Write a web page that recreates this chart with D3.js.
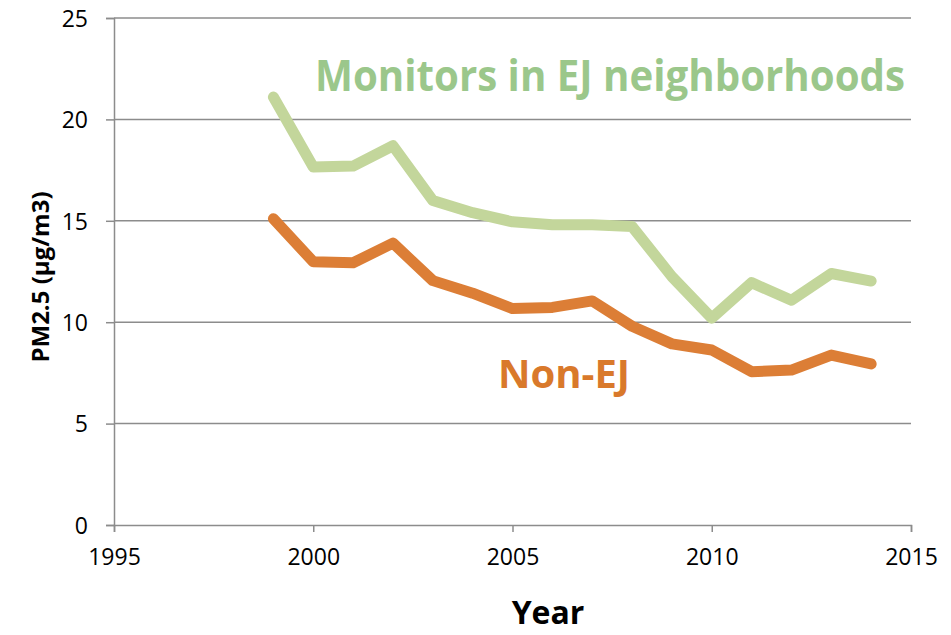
<!DOCTYPE html>
<html>
<head>
<meta charset="utf-8">
<script src="https://cdn.jsdelivr.net/npm/d3@7"></script>
<style>
  body { margin: 0; background: #fff; }
  svg text { font-family: "Open Sans", "Liberation Sans", sans-serif; }
</style>
</head>
<body>
<svg id="chart" width="951" height="635"></svg>
<script>
var years = [1999, 2000, 2001, 2002, 2003, 2004, 2005, 2006, 2007, 2008, 2009, 2010, 2011, 2012, 2013, 2014];
var ej = [21.1, 17.65, 17.7, 18.7, 16.0, 15.4, 14.95, 14.8, 14.8, 14.72, 12.25, 10.2, 11.95, 11.08, 12.4, 12.03];
var nonEj = [15.1, 12.98, 12.93, 13.9, 12.05, 11.43, 10.67, 10.73, 11.05, 9.8, 8.93, 8.63, 7.56, 7.64, 8.38, 7.94];
var xTicks = [1995, 2000, 2005, 2010, 2015];
var yTicks = [0, 5, 10, 15, 20, 25];

var svg = d3.select('#chart');
var margin = {top: 18, right: 40, bottom: 110, left: 114};
var width = 911 - margin.left, height = 525 - margin.top;

var g = svg.append('g').attr('transform', 'translate(' + margin.left + ',' + margin.top + ')');

var x = d3.scaleLinear().domain([1995, 2015]).range([0, width]);
var y = d3.scaleLinear().domain([0, 25]).range([height, 0]);

var gridColor = '#8c8c8c';

// horizontal gridlines
g.append('g')
    .selectAll('line')
    .data(yTicks.slice(1))
    .enter().append('line')
    .attr('x1', 0).attr('x2', width)
    .attr('y1', function (d) { return y(d); })
    .attr('y2', function (d) { return y(d); })
    .attr('stroke', gridColor)
    .attr('stroke-width', 1.5);

var xAxis = g.append('g')
    .attr('transform', 'translate(0,' + height + ')')
    .call(d3.axisBottom(x).tickValues(xTicks).tickFormat(d3.format('d')).tickSize(7).tickPadding(17));

var yAxis = g.append('g')
    .call(d3.axisLeft(y).tickValues(yTicks).tickSize(8).tickPadding(18));

[xAxis, yAxis].forEach(function (a) {
    a.select('.domain').attr('stroke', gridColor).attr('stroke-width', 1.5);
    a.selectAll('.tick line').attr('stroke', gridColor).attr('stroke-width', 1.5);
    a.selectAll('.tick text')
        .attr('fill', '#000')
        .style('font-size', '23px')
        .style('font-family', '"Open Sans", sans-serif');
});
yAxis.selectAll('.tick text').attr('dy', '0.36em');

var line = d3.line()
    .x(function (d) { return x(d[0]); })
    .y(function (d) { return y(d[1]); });

function series(vals) {
    return years.map(function (yr, i) { return [yr, vals[i]]; });
}

g.append('path')
    .datum(series(ej))
    .attr('d', line)
    .attr('fill', 'none')
    .attr('stroke', '#c3d69b')
    .attr('stroke-width', 11)
    .attr('stroke-linejoin', 'round')
    .attr('stroke-linecap', 'round');

g.append('path')
    .datum(series(nonEj))
    .attr('d', line)
    .attr('fill', 'none')
    .attr('stroke', '#dc7e36')
    .attr('stroke-width', 11)
    .attr('stroke-linejoin', 'round')
    .attr('stroke-linecap', 'round');

// fit a text to a given width if it runs wider
function fit(t, w) {
    var len = t.node().getComputedTextLength();
    if (len > w) t.attr('textLength', w).attr('lengthAdjust', 'spacingAndGlyphs');
}

var t1 = svg.append('text')
    .attr('x', 315).attr('y', 91)
    .attr('fill', '#9bc78b')
    .style('font-size', '43px')
    .style('font-weight', 'bold')
    .text('Monitors in EJ neighborhoods');
fit(t1, 590);

var t2 = svg.append('text')
    .attr('x', 498).attr('y', 388)
    .attr('fill', '#d9792b')
    .style('font-size', '40px')
    .style('font-weight', 'bold')
    .text('Non-EJ');
fit(t2, 134);

var t3 = svg.append('text')
    .attr('x', 548).attr('y', 624)
    .attr('text-anchor', 'middle')
    .attr('fill', '#000')
    .style('font-size', '32px')
    .style('font-weight', 'bold')
    .text('Year');
fit(t3, 103);

var t4 = svg.append('text')
    .attr('transform', 'translate(49,' + 277 + ') rotate(-90)')
    .attr('text-anchor', 'middle')
    .attr('fill', '#000')
    .style('font-size', '24px')
    .style('font-weight', 'bold')
    .text('PM2.5 (µg/m3)');
fit(t4, 183);
</script>
</body>
</html>
